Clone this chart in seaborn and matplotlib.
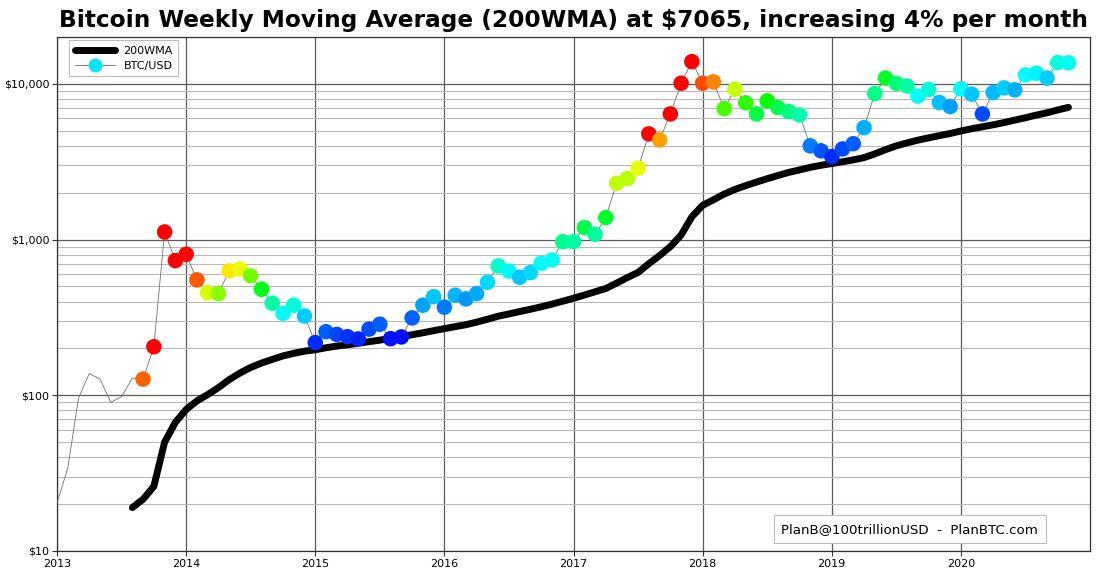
import numpy as np
import pandas as pd
import matplotlib
matplotlib.use("Agg")
import matplotlib.pyplot as plt
import seaborn as sns
from matplotlib.lines import Line2D
from matplotlib.ticker import FixedLocator, FuncFormatter, LogLocator, NullFormatter

# ---------------- data ----------------
price_start = 2013.0
btc_usd = [
    20.3, 34, 96, 138, 127, 90, 98, 129, 127, 205, 1119, 733,
    805, 551, 456, 450, 630, 646, 585, 480, 390, 336, 379, 323,
    218, 256, 246, 238, 230, 266, 286, 231, 237, 314, 379, 430,
    368, 439, 416, 450, 532, 678, 627, 573, 614, 705, 740, 970,
    970, 1195, 1082, 1384, 2301, 2466, 2874, 4775, 4366, 6412, 10100, 13900,
    10100, 10300, 6930, 9250, 7550, 6412, 7780, 7040, 6640, 6320, 4000, 3715,
    3415, 3820, 4130, 5235, 8670, 10900, 10070, 9690, 8350, 9200, 7590, 7150,
    9290, 8590, 6410, 8790, 9420, 9150, 11420, 11700, 10900, 13700, 13650,
]
wma_start = 2013.0 + 7 / 12
wma_200 = [
    19, 21.5, 26, 50, 67,
    81, 92, 101, 112, 126, 139, 151, 161, 170, 179, 186, 192,
    196, 202, 207, 211, 216, 221, 226, 232, 238, 245, 252, 260,
    268, 276, 284, 295, 308, 322, 333, 345, 357, 370, 385, 402,
    420, 440, 462, 485, 525, 570, 615, 700, 790, 900, 1070, 1400,
    1660, 1800, 1960, 2100, 2220, 2340, 2460, 2580, 2700, 2800, 2910, 3000,
    3080, 3160, 3250, 3360, 3550, 3780, 4000, 4180, 4350, 4500, 4650, 4800,
    4980, 5150, 5300, 5460, 5640, 5850, 6060, 6300, 6520, 6800, 7065,
]
marker_from = 2013.0 + 8 / 12
year_ticks = [2013, 2014, 2015, 2016, 2017, 2018, 2019, 2020]
price_ticks = [10, 100, 1000, 10000]
# heat scale: price / 200WMA ratio -> position on the hsv colour wheel
heat_ratio = [1.0, 1.5, 2.0, 3.0, 4.5, 5.5, 6.6]
heat_level = [0.667, 0.57, 0.49, 0.35, 0.20, 0.11, 0.0]
title = "Bitcoin Weekly Moving Average (200WMA) at $7065, increasing 4% per month"
credit = "PlanB@100trillionUSD  -  PlanBTC.com"

price_df = pd.DataFrame({
    "date": price_start + np.arange(len(btc_usd)) / 12,
    "price": btc_usd,
})
wma_df = pd.DataFrame({
    "date": wma_start + np.arange(len(wma_200)) / 12,
    "wma": wma_200,
})
m = pd.merge_asof(price_df, wma_df, on="date", tolerance=1e-6, direction="nearest")
m = m[m["date"] >= marker_from - 1e-6].dropna().copy()
ratio = (m["price"] / m["wma"]).to_numpy()
m["heat"] = np.interp(ratio, heat_ratio, heat_level)

# ---------------- figure ----------------
sns.set_theme(style="white")
plt.rcParams["font.family"] = ["DejaVu Sans"]
plt.rcParams["text.color"] = "black"
plt.rcParams["xtick.color"] = "black"
plt.rcParams["ytick.color"] = "black"
fig = plt.figure(figsize=(11.13, 5.77), dpi=100)
ax = fig.add_axes([57 / 1113, 1 - 551 / 577, 1033 / 1113, 514 / 577])

sns.lineplot(data=price_df, x="date", y="price", ax=ax, color="#707070",
             linewidth=0.6, zorder=3)
sns.lineplot(data=wma_df, x="date", y="wma", ax=ax, color="black",
             linewidth=5, solid_capstyle="round", zorder=4)
sns.scatterplot(data=m, x="date", y="price", hue="heat",
                palette=plt.get_cmap("hsv"), hue_norm=(0, 1), ax=ax,
                s=125, edgecolor="none", linewidth=0, legend=False, zorder=5)

ax.set_yscale("log")
ax.set_xlim(2013, 2021.0)
ax.set_ylim(10, 20000)
ax.xaxis.set_major_locator(FixedLocator(year_ticks))
ax.xaxis.set_major_formatter(FuncFormatter(lambda v, p: f"{int(round(v))}"))
ax.yaxis.set_major_locator(FixedLocator(price_ticks))
ax.yaxis.set_major_formatter(FuncFormatter(lambda v, p: f"${v:,.0f}"))
ax.yaxis.set_minor_locator(LogLocator(base=10, subs=np.arange(2, 10)))
ax.yaxis.set_minor_formatter(NullFormatter())
ax.set_xlabel("")
ax.set_ylabel("")

ax.grid(True, which="major", axis="both", color="#5a5a5a", linewidth=0.9)
ax.grid(True, which="minor", axis="y", color="#b8b8b8", linewidth=0.8)
ax.set_axisbelow(True)
ax.tick_params(axis="both", which="major", direction="out", length=3.5,
               width=0.8, color="#333333", labelsize=8, pad=2,
               labelcolor="black", bottom=True, left=True)
ax.tick_params(axis="y", which="minor", length=0)
for sp in ax.spines.values():
    sp.set_color("#333333")
    sp.set_linewidth(0.9)

ax.set_title(title, fontsize=16.75, fontweight="bold", color="black", pad=7)

h1 = Line2D([], [], color="black", linewidth=5, solid_capstyle="round")
h2 = Line2D([], [], color="#707070", linewidth=0.6, marker="o", markersize=10,
            markerfacecolor="#00e5ff", markeredgecolor="none")
leg = ax.legend([h1, h2], ["200WMA", "BTC/USD"], loc="upper left",
                bbox_to_anchor=(12 / 1033, 1 - 3 / 514), borderaxespad=0,
                fontsize=8, fancybox=False, edgecolor="#bbbbbb",
                framealpha=1, handlelength=3.6,
                labelspacing=0.45, borderpad=0.5, labelcolor="black")
leg.get_frame().set_linewidth(0.8)

ax.text(0.950, 0.030, credit, transform=ax.transAxes, ha="right", va="bottom",
        fontsize=9.6, zorder=6, color="black",
        bbox=dict(boxstyle="square,pad=0.55", facecolor="white",
                  edgecolor="#bbbbbb", linewidth=0.8))

fig.savefig("out.png", dpi=100)
